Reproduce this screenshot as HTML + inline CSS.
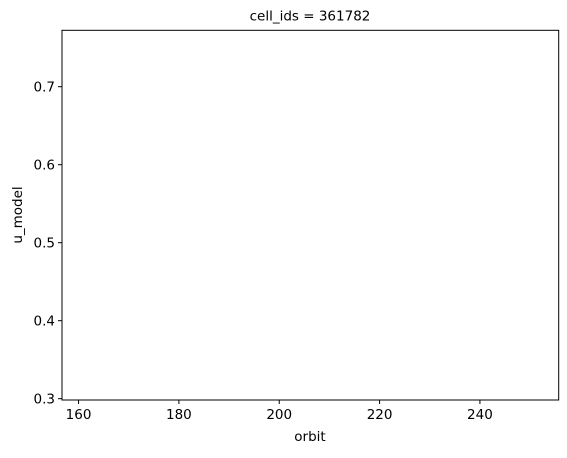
<!DOCTYPE html>
<html><head><meta charset="utf-8"><style>
body{margin:0;background:#fff;}
svg text{font-family:"DejaVu Sans","Liberation Sans",sans-serif;font-size:13.5px;fill:#000;}
</style></head><body>
<svg width="567" height="453" xmlns="http://www.w3.org/2000/svg">
<rect x="62" y="30.3" width="496.7" height="369.7" fill="#fff" stroke="#000" stroke-width="1"/>
<text x="310" y="20.5" text-anchor="middle">cell_ids = 361782</text>
<text x="310" y="441" text-anchor="middle">orbit</text>
<text transform="translate(22,215) rotate(-90)" text-anchor="middle">u_model</text>
<g id="xt"></g><g id="yt"></g>
</svg>
<script>
const xTicks=[160,180,200,220,240];
const yTicks=[0.3,0.4,0.5,0.6,0.7];
const xDomain=[156.7,255.7];
const yDomain=[0.2983,0.7723];
const L=62,R=558.7,T=30.3,B=400;
const sx=v=>L+(v-xDomain[0])/(xDomain[1]-xDomain[0])*(R-L);
const sy=v=>B-(v-yDomain[0])/(yDomain[1]-yDomain[0])*(B-T);
const ns="http://www.w3.org/2000/svg";
const xt=document.getElementById('xt'),yt=document.getElementById('yt');
xTicks.forEach(v=>{
  const x=sx(v);
  const l=document.createElementNS(ns,'line');
  l.setAttribute('x1',x);l.setAttribute('x2',x);l.setAttribute('y1',B);l.setAttribute('y2',B+4);l.setAttribute('stroke','#000');
  
  
  xt.appendChild(l);
  const t=document.createElementNS(ns,'text');
  t.setAttribute('x',x);t.setAttribute('y',B+19);t.setAttribute('text-anchor','middle');t.textContent=v;
  
  
  xt.appendChild(t);
});
yTicks.forEach(v=>{
  const y=sy(v);
  const l=document.createElementNS(ns,'line');
  l.setAttribute('x1',L-4);l.setAttribute('x2',L);l.setAttribute('y1',y);l.setAttribute('y2',y);l.setAttribute('stroke','#000');
  
  
  yt.appendChild(l);
  const t=document.createElementNS(ns,'text');
  t.setAttribute('x',L-7);t.setAttribute('y',y+5);t.setAttribute('text-anchor','end');t.textContent=v.toFixed(1);
  
  
  yt.appendChild(t);
});
</script>
</body></html>
